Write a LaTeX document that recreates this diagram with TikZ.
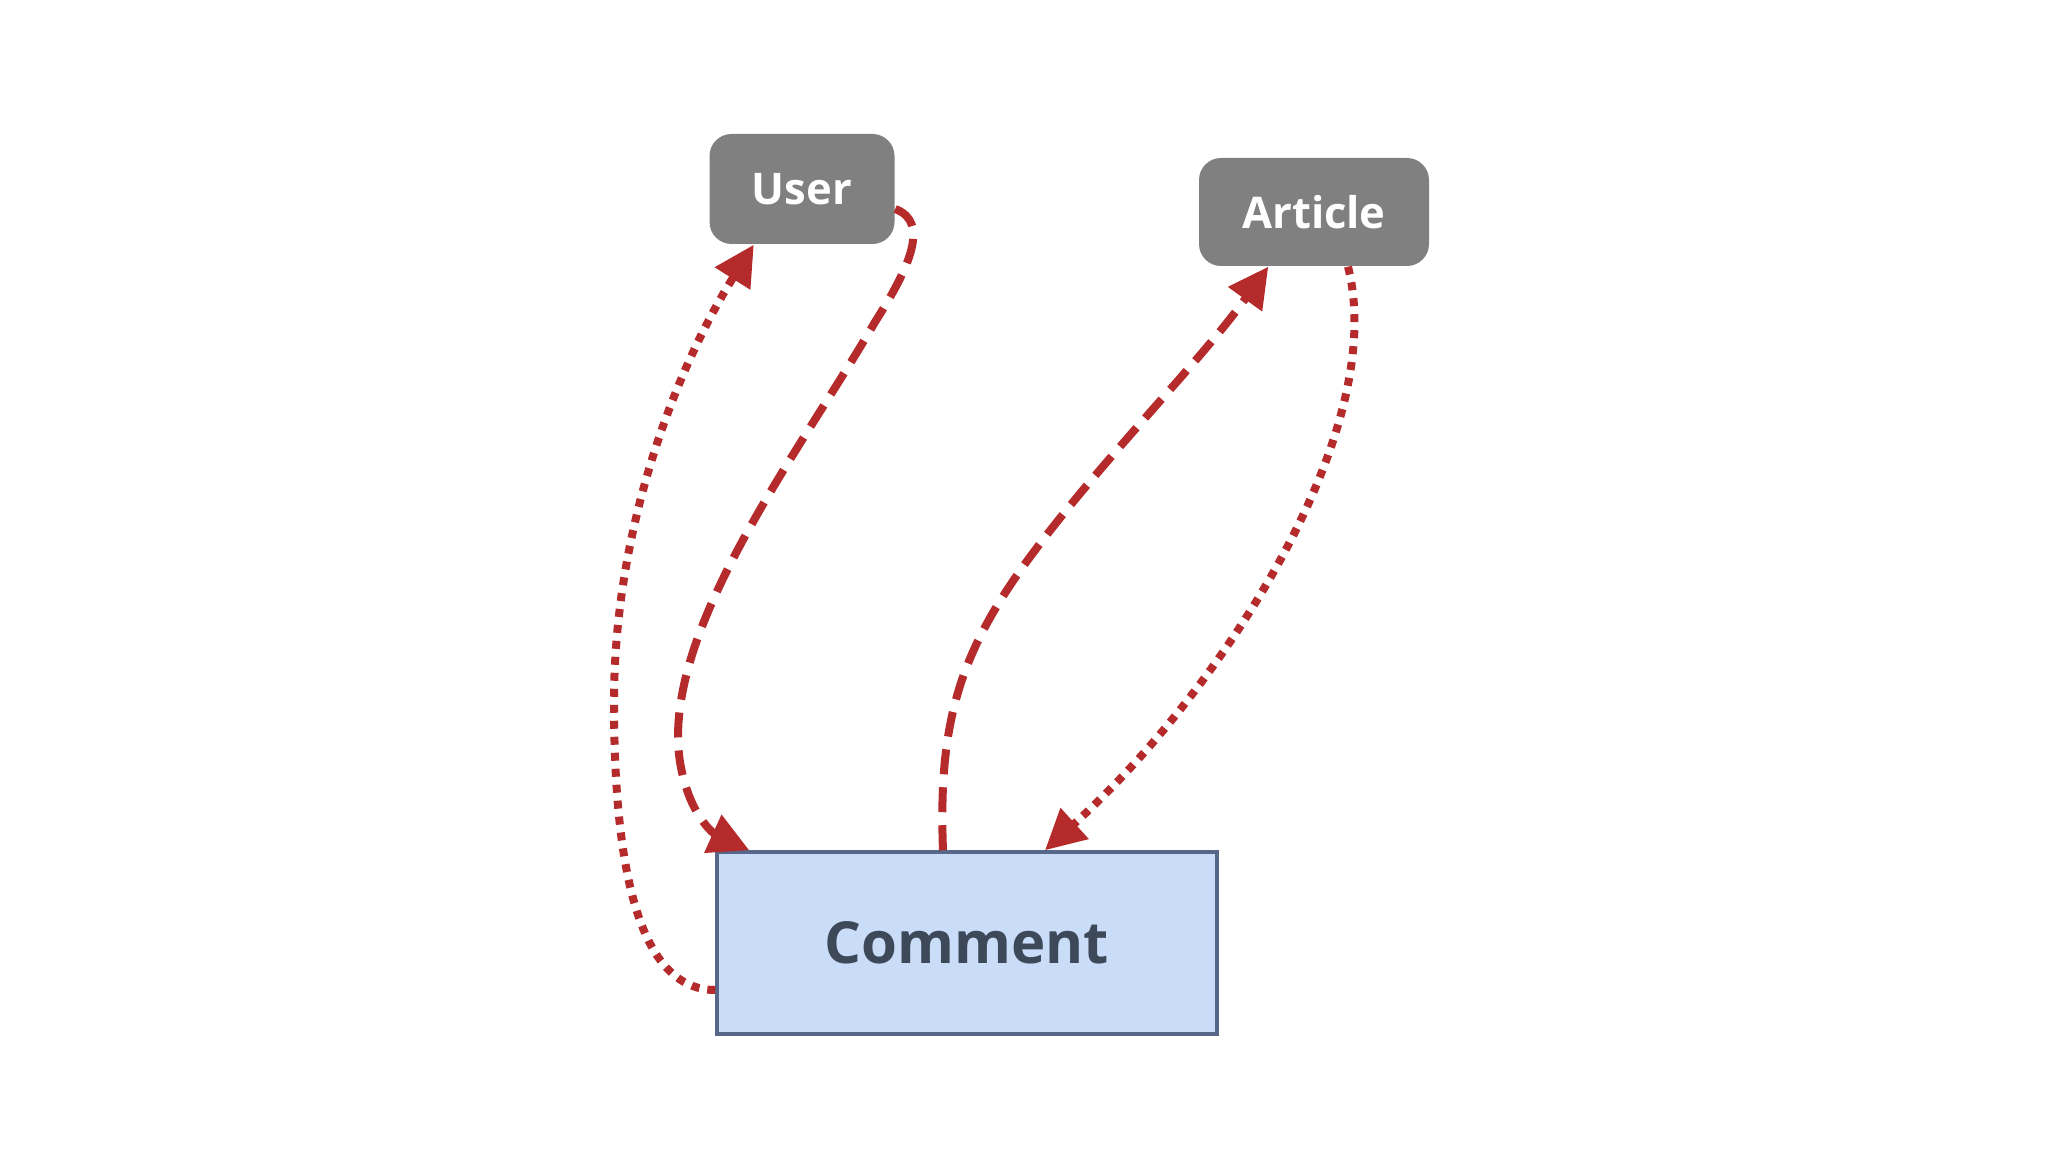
\documentclass[tikz,border=0pt]{standalone}
\usepackage{fontspec}
\setmainfont{Open Sans}
\usepackage{xcolor}
\usepackage{tikz}
\usetikzlibrary{shapes,arrows.meta,positioning,calc}
\definecolor{boxgray}{HTML}{808080}
\definecolor{linkred}{HTML}{B52A2A}
\definecolor{commentfill}{HTML}{C9DCF8}
\definecolor{commentdraw}{HTML}{56678A}
\definecolor{commenttext}{HTML}{3D4859}

\begin{document}
\begin{tikzpicture}[
    entity/.style={rectangle, fill=boxgray, rounded corners=0.22cm, text=white, font=\fontsize{12.4}{15}\selectfont\bfseries, inner sep=0pt},
    record/.style={rectangle, draw=commentdraw, fill=commentfill, line width=1pt, text=commenttext, font=\fontsize{16.5}{20}\selectfont\bfseries, minimum width=5cm, minimum height=1.82cm},
    dashlink/.style={linkred, line width=0.08cm, dash pattern=on 0.25cm off 0.13cm, -{Triangle[length=0.4cm,width=0.4cm]}},
    dotlink/.style={linkred, line width=0.08cm, dash pattern=on 0.08cm off 0.08cm, -{Triangle[length=0.4cm,width=0.4cm]}}
]
    \useasboundingbox (0,0) rectangle (20.48,11.52);

    \node[entity, minimum width=1.85cm, minimum height=1.1cm] (user) at (8.02,9.63) {User};
    \node[entity, minimum width=2.3cm, minimum height=1.08cm] (article) at (13.14,9.40) {Article};
    \node[record] (comment) at (9.67,2.09) {Comment};

    % comment -> user (dotted, round the left)
    \draw[dotlink] ([yshift=-0.47cm]comment.west) .. controls (6.5,1.62) and (6.14,2.5) .. (6.14,4.5)
        .. controls (6.14,6.3) and (6.8,7.9) .. ([xshift=0.45cm]user.south west);
    % user -> comment (dashed)
    \draw[dashlink] ([yshift=-0.2cm]user.east) .. controls (9.3,9.3) and (9.1,8.85) .. (8.75,8.3)
        .. controls (8.0,7.0) and (6.6,5.2) .. (6.8,3.9)
        .. controls (6.9,3.3) and (7.2,3.15) .. ([xshift=0.34cm]comment.north west);
    % comment -> article (dashed)
    \draw[dashlink] ([xshift=-0.24cm]comment.north) .. controls (9.38,4.3) and (9.6,5.0) .. (10.3,5.95)
        .. controls (11.0,6.9) and (12.0,7.9) .. ([xshift=0.7cm]article.south west);
    % article -> comment (dotted)
    \draw[dotlink] ([xshift=0.34cm]article.south) .. controls (13.9,7.2) and (12.2,4.6) .. ([xshift=0.78cm]comment.north);
\end{tikzpicture}
\end{document}
